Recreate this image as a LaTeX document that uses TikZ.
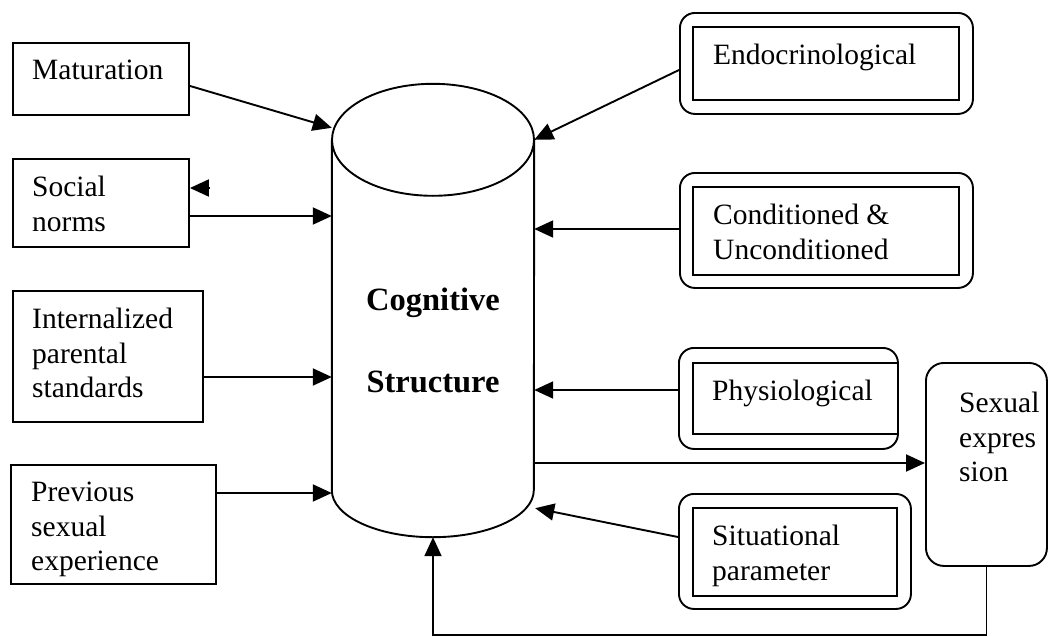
\documentclass[tikz,border=0pt]{standalone}
\usepackage{fontspec}
\setmainfont{Liberation Serif}
\usetikzlibrary{arrows.meta}

\tikzset{
  sqbox/.style={draw, line width=1.9pt, anchor=north west, inner sep=0pt},
  rndbox/.style={sqbox, rounded corners=15pt},
  lbl/.style={inner sep=0pt, anchor=north west, align=left},
  arr/.style={line width=1.9pt, -{Triangle[length=19pt,width=17pt]}},
}

\begin{document}
\begin{tikzpicture}[x=1pt, y=-1pt, font=\fontsize{29.5}{34.5}\selectfont]
\useasboundingbox (0,0) rectangle (1050,637);

% left factors
\node[sqbox, minimum width=176pt, minimum height=72pt] (mat) at (12,42) {};
\node[sqbox, minimum width=176pt, minimum height=88pt] (soc) at (12,158) {};
\node[sqbox, minimum width=190pt, minimum height=131pt] (intl) at (12,290) {};
\node[sqbox, minimum width=205pt, minimum height=119pt] (prev) at (10,464) {};
\node[lbl] (mattxt) at ([xshift=20pt,yshift=-18pt]mat.north west) {Maturation};
\node[lbl] (soctxt) at ([xshift=20pt,yshift=-18pt]soc.north west) {Social\\norms};
\node[lbl] (intltxt) at ([xshift=20pt,yshift=-18pt]intl.north west) {Internalized\\parental\\standards};
\node[lbl] (prevtxt) at ([xshift=21pt,yshift=-18pt]prev.north west) {Previous\\sexual\\experience};

% right factors (double frames)
\node[rndbox, minimum width=293pt, minimum height=101pt] (endo) at (679,12) {};
\node[sqbox, minimum width=266pt, minimum height=73pt] (endoin) at (692,26) {};
\node[rndbox, minimum width=293pt, minimum height=115pt] (cond) at (679,172) {};
\node[sqbox, minimum width=266pt, minimum height=88pt] (condin) at (692,186) {};
\node[rndbox, minimum width=219pt, minimum height=101pt] (phys) at (678,347) {};
\node[sqbox, minimum width=205pt, minimum height=71pt] (physin) at (692,362) {};
\node[rndbox, minimum width=232pt, minimum height=115pt] (sit) at (678,493) {};
\node[sqbox, minimum width=204pt, minimum height=88pt] (sitin) at (692,507) {};
\node[lbl] (endotxt) at ([xshift=21pt,yshift=-18pt]endoin.north west) {Endocrinological};
\node[lbl] (condtxt) at ([xshift=21pt,yshift=-18pt]condin.north west) {Conditioned \&\\Unconditioned};
\node[lbl] (phystxt) at ([xshift=20pt,yshift=-18pt]physin.north west) {Physiological};
\node[lbl] (sittxt) at ([xshift=20pt,yshift=-18pt]sitin.north west) {Situational\\parameter};

% outcome
\node[rndbox, rounded corners=18pt, minimum width=121pt, minimum height=203pt] (sex) at (925,362) {};
\node[lbl] (sextxt) at ([xshift=34pt,yshift=-30pt]sex.north west) {Sexual\\expres\\sion};

% cylinder
\node[minimum width=202pt, minimum height=350pt, inner sep=0pt] (cyl) at (433,315) {};
\draw[line width=1.9pt] (cyl.north) ellipse [x radius=101, y radius=56];
\draw[line width=1.9pt] (cyl.north west) -- (cyl.south west)
  arc[start angle=180, end angle=0, x radius=101, y radius=47] -- (cyl.north east);
\node[align=center, font=\bfseries\fontsize{32.5}{82}\selectfont] (cogtxt) at (433,340) {Cognitive\\Structure};
\coordinate (cylbot) at ([yshift=-47pt]cyl.south);

% arrows in
\draw[arr] ([yshift=-7pt]mat.east) -- ([yshift=12pt]cyl.north west);
\foreach \src/\y in {soc/216, intl/377, prev/493}
  \draw[arr] (\src.east |- 0,\y) -- (cyl.west |- 0,\y);
\draw[arr, shorten <=20pt] ([xshift=40pt]soc.east |- 0,188) -- (soc.east |- 0,188);
\draw[arr] (endo.west |- 0,70) -- (cyl.north east);
\foreach \src/\y in {cond/229, phys/390}
  \draw[arr] (\src.west |- 0,\y) -- (cyl.east |- 0,\y);
\draw[arr] (sit.west |- 0,537) -- ([xshift=1pt,yshift=-18pt]cyl.south east);

% arrow out and feedback
\draw[arr] (cyl.east |- 0,463) -- (sex.west |- 0,463);
\draw[arr] (sex.south) -- (sex.south |- 0,635) -- (cylbot |- 0,635) -- (cylbot);
\end{tikzpicture}
\end{document}
